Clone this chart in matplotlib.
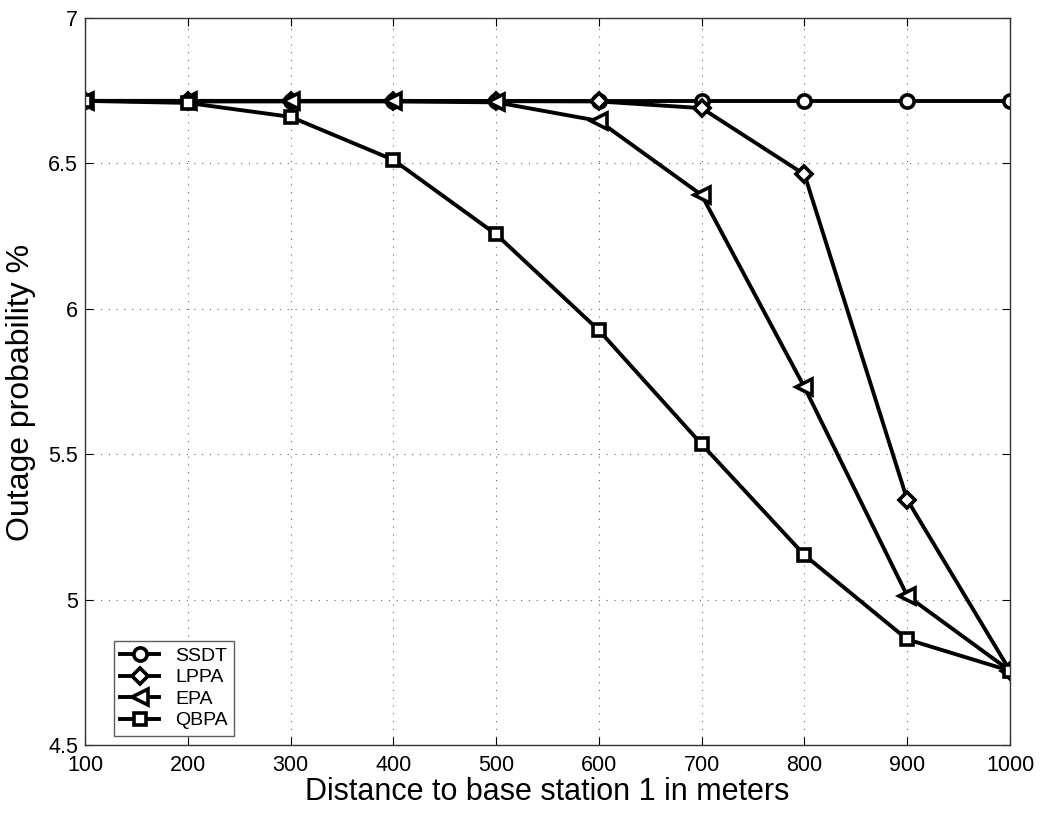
import matplotlib
matplotlib.use("Agg")
import matplotlib.pyplot as plt

plt.rcParams["font.family"] = ["Liberation Sans", "DejaVu Sans"]

# Distance to base station 1 (m)
distance = [100, 200, 300, 400, 500, 600, 700, 800, 900, 1000]

# Outage probability (%)
ssdt = [6.715, 6.715, 6.715, 6.715, 6.715, 6.715, 6.715, 6.715, 6.715, 6.715]
lppa = [6.715, 6.715, 6.715, 6.715, 6.714, 6.713, 6.690, 6.462, 5.343, 4.755]
epa = [6.715, 6.713, 6.713, 6.713, 6.710, 6.646, 6.391, 5.730, 5.013, 4.755]
qbpa = [6.715, 6.708, 6.660, 6.512, 6.256, 5.926, 5.534, 5.153, 4.863, 4.755]

series = [("SSDT", ssdt, "o"), ("LPPA", lppa, "D"), ("EPA", epa, "<"), ("QBPA", qbpa, "s")]
msizes = {"o": 9.5, "D": 8, "<": 11, "s": 8.5}

fig = plt.figure(figsize=(10.43, 8.14), dpi=100)
ax = fig.add_axes([0.0815, 0.0848, 0.8869, 0.8931])

for name, vals, mk in series:
    ax.plot(distance, vals, color="black", lw=2.8, marker=mk, ms=msizes[mk],
            mfc="white", mec="black", mew=2.6, label=name)

ax.set_xlim(100, 1000)
ax.set_ylim(4.5, 7)
ax.set_xticks(distance)
ax.set_yticks([4.5, 5, 5.5, 6, 6.5, 7])
ax.set_yticklabels(["4.5", "5", "5.5", "6", "6.5", "7"])
ax.tick_params(direction="in", length=6, labelsize=15.5, width=0.8, top=True, right=True,
               labeltop=False, labelright=False)
ax.tick_params(axis="x", pad=7)
ax.tick_params(axis="y", pad=5)
ax.grid(True, color="#666666", linestyle=(0, (1, 6)), linewidth=0.8)
for sp in ax.spines.values():
    sp.set_color("#333333")
    sp.set_linewidth(1.0)

ax.set_xlabel("Distance to base station 1 in meters", fontsize=22, labelpad=1)
ax.set_ylabel("Outage probability %", fontsize=23)
ax.yaxis.set_label_coords(-0.053, 0.485)

leg = ax.legend(loc="lower left", bbox_to_anchor=(0.031, 0.012), fontsize=14,
                frameon=True, fancybox=False, handlelength=2.0, borderpad=0.35,
                labelspacing=0.2, handletextpad=0.8, borderaxespad=0)
leg.get_frame().set_edgecolor("#333333")
leg.get_frame().set_linewidth(1.0)

fig.savefig("out.png", dpi=100)
